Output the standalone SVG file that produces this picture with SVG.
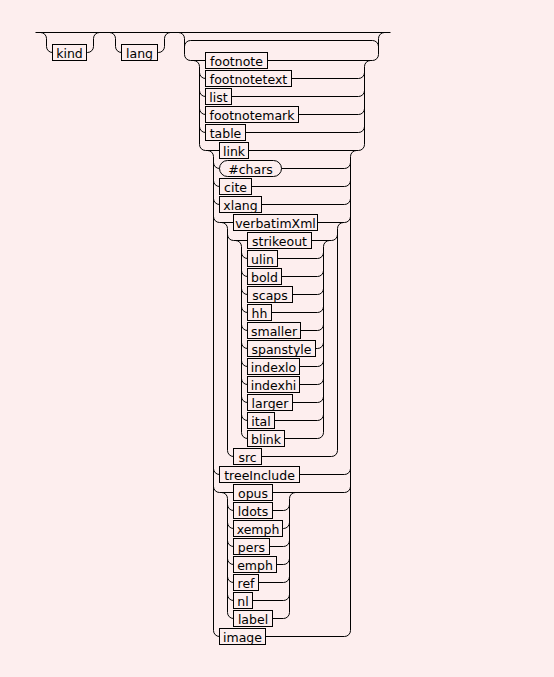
<svg xmlns="http://www.w3.org/2000/svg" width="554" height="677" viewBox="0 0 554 677">
<style>
.box{fill:none;stroke:#000;stroke-width:1}
.lbl{font-family:"DejaVu Sans",sans-serif;font-size:12.5px;text-anchor:middle;fill:#000}
.wire{fill:none;stroke:#000;stroke-width:1}
</style>
<rect x="0" y="0" width="554" height="677" fill="#fdeeee"/>
<g transform="translate(0.5,0.5)">
<g id="connectors" class="wire">
<path d="M35,32 H390"/>
<path d="M40,32 a6,6 0 0 1 6,6 V46 a6,6 0 0 0 6,6"/>
<path d="M86,52 H87 a6,6 0 0 0 6,-6 V38 a6,6 0 0 1 6,-6"/>
<path d="M109,32 a6,6 0 0 1 6,6 V46 a6,6 0 0 0 6,6"/>
<path d="M157,52 H158 a6,6 0 0 0 6,-6 V38 a6,6 0 0 1 6,-6"/>
<path d="M178,32 a6,6 0 0 1 6,6 V54 a6,6 0 0 0 6,6 H205"/>
<path d="M184,46 a6,6 0 0 1 6,-6 H372 a6,6 0 0 1 6,6"/>
<path d="M267,60 H372 a6,6 0 0 0 6,-6 V38 a6,6 0 0 1 6,-6"/>
<path d="M193,60 a6,6 0 0 1 6,6 V144 a6,6 0 0 0 6,6 H219"/>
<path d="M199,72 a6,6 0 0 0 6,6 M199,90 a6,6 0 0 0 6,6 M199,108 a6,6 0 0 0 6,6 M199,126 a6,6 0 0 0 6,6"/>
<path d="M364,144 V66 a6,6 0 0 1 6,-6"/>
<path d="M291,78 H358 a6,6 0 0 0 6,-6 M231,96 H358 a6,6 0 0 0 6,-6 M298,114 H358 a6,6 0 0 0 6,-6 M245,132 H358 a6,6 0 0 0 6,-6 M248,150 H358 a6,6 0 0 0 6,-6"/>
<path d="M207,150 a6,6 0 0 1 6,6 V630"/>
<path d="M213,162 a6,6 0 0 0 6,6 M213,180 a6,6 0 0 0 6,6 M213,198 a6,6 0 0 0 6,6 M213,216 a6,6 0 0 0 6,6 H233 M213,468 a6,6 0 0 0 6,6 M213,486 a6,6 0 0 0 6,6 H233 M213,630 a6,6 0 0 0 6,6"/>
<path d="M350,630 V156 a6,6 0 0 1 6,-6"/>
<path d="M281,168 H344 a6,6 0 0 0 6,-6 M251,186 H344 a6,6 0 0 0 6,-6 M261,204 H344 a6,6 0 0 0 6,-6 M317,222 H344 a6,6 0 0 0 6,-6 M299,474 H344 a6,6 0 0 0 6,-6 M272,492 H344 a6,6 0 0 0 6,-6 M265,636 H344 a6,6 0 0 0 6,-6"/>
<path d="M221,222 a6,6 0 0 1 6,6 V450 a6,6 0 0 0 6,6"/>
<path d="M227,234 a6,6 0 0 0 6,6 H247"/>
<path d="M337,450 V228 a6,6 0 0 1 6,-6"/>
<path d="M311,240 H331 a6,6 0 0 0 6,-6 M261,456 H331 a6,6 0 0 0 6,-6"/>
<path d="M235,240 a6,6 0 0 1 6,6 V432"/>
<path d="M241,252 a6,6 0 0 0 6,6 M241,270 a6,6 0 0 0 6,6 M241,288 a6,6 0 0 0 6,6 M241,306 a6,6 0 0 0 6,6 M241,324 a6,6 0 0 0 6,6 M241,342 a6,6 0 0 0 6,6 M241,360 a6,6 0 0 0 6,6 M241,378 a6,6 0 0 0 6,6 M241,396 a6,6 0 0 0 6,6 M241,414 a6,6 0 0 0 6,6 M241,432 a6,6 0 0 0 6,6"/>
<path d="M323,432 V246 a6,6 0 0 1 6,-6"/>
<path d="M277,258 H317 a6,6 0 0 0 6,-6 M281,276 H317 a6,6 0 0 0 6,-6 M292,294 H317 a6,6 0 0 0 6,-6 M271,312 H317 a6,6 0 0 0 6,-6 M300,330 H317 a6,6 0 0 0 6,-6 M315,348 H317 a6,6 0 0 0 6,-6 M299,366 H317 a6,6 0 0 0 6,-6 M299,384 H317 a6,6 0 0 0 6,-6 M292,402 H317 a6,6 0 0 0 6,-6 M274,420 H317 a6,6 0 0 0 6,-6 M284,438 H317 a6,6 0 0 0 6,-6"/>
<path d="M221,492 a6,6 0 0 1 6,6 V612"/>
<path d="M227,504 a6,6 0 0 0 6,6 M227,522 a6,6 0 0 0 6,6 M227,540 a6,6 0 0 0 6,6 M227,558 a6,6 0 0 0 6,6 M227,576 a6,6 0 0 0 6,6 M227,594 a6,6 0 0 0 6,6 M227,612 a6,6 0 0 0 6,6"/>
<path d="M289,612 V498 a6,6 0 0 1 6,-6"/>
<path d="M272,510 H283 a6,6 0 0 0 6,-6 M282,528 H283 a6,6 0 0 0 6,-6 M269,546 H283 a6,6 0 0 0 6,-6 M276,564 H283 a6,6 0 0 0 6,-6 M258,582 H283 a6,6 0 0 0 6,-6 M252,600 H283 a6,6 0 0 0 6,-6 M272,618 H283 a6,6 0 0 0 6,-6"/>
</g>
<g id="n-kind"><rect class="box" x="52" y="44" width="34" height="16"/><text class="lbl" x="69" y="57">kind</text></g>
<g id="n-lang"><rect class="box" x="121" y="44" width="36" height="16"/><text class="lbl" x="139" y="57">lang</text></g>
<g id="n-footnote"><rect class="box" x="205" y="52" width="62" height="16"/><text class="lbl" x="236" y="65">footnote</text></g>
<g id="n-footnotetext"><rect class="box" x="205" y="70" width="86" height="16"/><text class="lbl" x="248" y="83">footnotetext</text></g>
<g id="n-list"><rect class="box" x="205" y="88" width="26" height="16"/><text class="lbl" x="218" y="101">list</text></g>
<g id="n-footnotemark"><rect class="box" x="205" y="106" width="93" height="16"/><text class="lbl" x="251.5" y="119">footnotemark</text></g>
<g id="n-table"><rect class="box" x="205" y="124" width="40" height="16"/><text class="lbl" x="225" y="137">table</text></g>
<g id="n-link"><rect class="box" x="219" y="142" width="29" height="16"/><text class="lbl" x="233.5" y="155">link</text></g>
<g id="n-chars"><rect class="box" x="219" y="160" width="62" height="16" rx="8" ry="8"/><text class="lbl" x="250" y="173">#chars</text></g>
<g id="n-cite"><rect class="box" x="219" y="178" width="32" height="16"/><text class="lbl" x="235" y="191">cite</text></g>
<g id="n-xlang"><rect class="box" x="219" y="196" width="42" height="16"/><text class="lbl" x="240" y="209">xlang</text></g>
<g id="n-verbatimXml"><rect class="box" x="233" y="214" width="84" height="16"/><text class="lbl" x="275" y="227">verbatimXml</text></g>
<g id="n-strikeout"><rect class="box" x="247" y="232" width="64" height="16"/><text class="lbl" x="279" y="245">strikeout</text></g>
<g id="n-ulin"><rect class="box" x="247" y="250" width="30" height="16"/><text class="lbl" x="262" y="263">ulin</text></g>
<g id="n-bold"><rect class="box" x="247" y="268" width="34" height="16"/><text class="lbl" x="264" y="281">bold</text></g>
<g id="n-scaps"><rect class="box" x="247" y="286" width="45" height="16"/><text class="lbl" x="269.5" y="299">scaps</text></g>
<g id="n-hh"><rect class="box" x="247" y="304" width="24" height="16"/><text class="lbl" x="259" y="317">hh</text></g>
<g id="n-smaller"><rect class="box" x="247" y="322" width="53" height="16"/><text class="lbl" x="273.5" y="335">smaller</text></g>
<g id="n-spanstyle"><rect class="box" x="247" y="340" width="68" height="16"/><text class="lbl" x="281" y="353">spanstyle</text></g>
<g id="n-indexlo"><rect class="box" x="247" y="358" width="52" height="16"/><text class="lbl" x="273" y="371">indexlo</text></g>
<g id="n-indexhi"><rect class="box" x="247" y="376" width="52" height="16"/><text class="lbl" x="273" y="389">indexhi</text></g>
<g id="n-larger"><rect class="box" x="247" y="394" width="45" height="16"/><text class="lbl" x="269.5" y="407">larger</text></g>
<g id="n-ital"><rect class="box" x="247" y="412" width="27" height="16"/><text class="lbl" x="260.5" y="425">ital</text></g>
<g id="n-blink"><rect class="box" x="247" y="430" width="37" height="16"/><text class="lbl" x="265.5" y="443">blink</text></g>
<g id="n-src"><rect class="box" x="233" y="448" width="28" height="16"/><text class="lbl" x="247" y="461">src</text></g>
<g id="n-treeInclude"><rect class="box" x="219" y="466" width="80" height="16"/><text class="lbl" x="259" y="479">treeInclude</text></g>
<g id="n-opus"><rect class="box" x="233" y="484" width="39" height="16"/><text class="lbl" x="252.5" y="497">opus</text></g>
<g id="n-ldots"><rect class="box" x="233" y="502" width="39" height="16"/><text class="lbl" x="252.5" y="515">ldots</text></g>
<g id="n-xemph"><rect class="box" x="233" y="520" width="49" height="16"/><text class="lbl" x="257.5" y="533">xemph</text></g>
<g id="n-pers"><rect class="box" x="233" y="538" width="36" height="16"/><text class="lbl" x="251" y="551">pers</text></g>
<g id="n-emph"><rect class="box" x="233" y="556" width="43" height="16"/><text class="lbl" x="254.5" y="569">emph</text></g>
<g id="n-ref"><rect class="box" x="233" y="574" width="25" height="16"/><text class="lbl" x="245.5" y="587">ref</text></g>
<g id="n-nl"><rect class="box" x="233" y="592" width="19" height="16"/><text class="lbl" x="242.5" y="605">nl</text></g>
<g id="n-label"><rect class="box" x="233" y="610" width="39" height="16"/><text class="lbl" x="252.5" y="623">label</text></g>
<g id="n-image"><rect class="box" x="219" y="628" width="46" height="16"/><text class="lbl" x="242" y="641">image</text></g>
</g>
</svg>
